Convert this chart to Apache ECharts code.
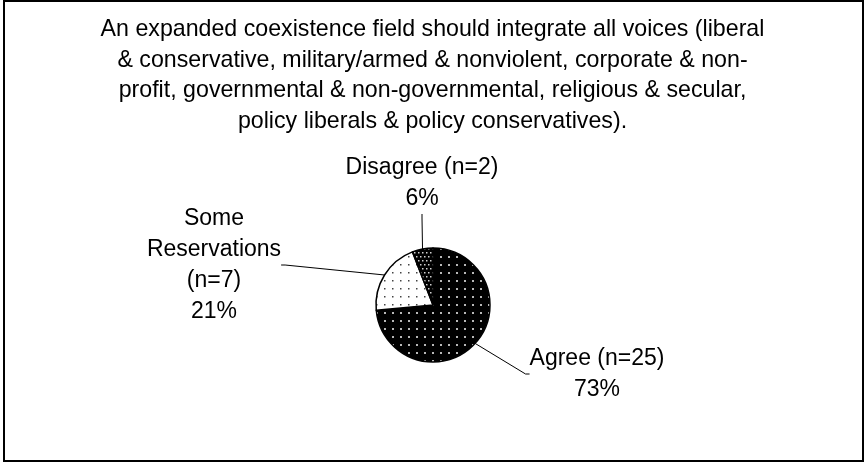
<!DOCTYPE html>
<html>
<head>
<meta charset="utf-8">
<script src="https://cdn.jsdelivr.net/npm/echarts@6/dist/echarts.min.js"></script>
<style>
html,body{margin:0;padding:0;background:#fff;}
#chart{position:absolute;left:0;top:0;width:865px;height:463px;}
#frame{position:absolute;left:3px;top:0px;width:857px;height:458px;border:2px solid #000;pointer-events:none;}
</style>
</head>
<body>
<div id="chart"></div>
<div id="frame"></div>
<script>
const titleLines = [
  "An expanded coexistence field should integrate all voices (liberal",
  "& conservative, military/armed & nonviolent, corporate & non-",
  "profit, governmental & non-governmental, religious & secular,",
  "policy liberals & policy conservatives)."
];
const categories = ["Agree", "Some Reservations", "Disagree"];
const labelNames = ["Agree (n=25)", "Some\nReservations\n(n=7)", "Disagree (n=2)"];
const counts = [25, 7, 2];
const percents = [73, 21, 6];

function makePattern(bg, dot, step, size, stagger) {
  const c = document.createElement('canvas');
  c.width = step * 2; c.height = step * 2;
  const ctx = c.getContext('2d');
  ctx.fillStyle = bg; ctx.fillRect(0, 0, c.width, c.height);
  ctx.fillStyle = dot;
  for (let i = 0; i < 2; i++) for (let j = 0; j < 2; j++) {
    let x = i * step + (stagger && (j % 2) ? step / 2 : 0);
    let y = j * step;
    ctx.fillRect(x, y, size, size);
  }
  return { image: c, repeat: 'repeat' };
}
const patterns = [
  makePattern('#000', '#b8b8b8', 8, 2, false),
  makePattern('#fff', '#444', 8, 1.5, false),
  makePattern('#000', '#d0d0d0', 4, 1.5, true)
];
const labelPos = [
  { x: 597, y: 374 },
  { x: 214, y: 265 },
  { x: 422, y: 183 }
];
const FONT = 'Liberation Sans, Arial, sans-serif';

const chart = echarts.init(document.getElementById('chart'), null, { renderer: 'canvas' });
chart.setOption({
  animation: false,
  backgroundColor: '#fff',
  title: {
    text: titleLines.join('\n'),
    left: 'center',
    top: 14,
    padding: 0,
    textStyle: {
      fontFamily: FONT,
      fontSize: 23.2,
      fontWeight: 'normal',
      color: '#000',
      lineHeight: 30.8
    }
  },
  series: [{
    type: 'pie',
    center: [433, 305],
    radius: 57,
    startAngle: 90,
    clockwise: true,
    avoidLabelOverlap: false,
    data: categories.map((c, i) => ({
      name: c,
      value: counts[i],
      itemStyle: { color: patterns[i] }
    })),
    itemStyle: { borderColor: '#000', borderWidth: 1.5 },
    label: {
      show: true,
      position: 'outside',
      formatter: p => labelNames[p.dataIndex] + '\n' + percents[p.dataIndex] + '%',
      fontFamily: FONT,
      fontSize: 23,
      color: '#000',
      lineHeight: 31,
      align: 'center'
    },
    labelLine: {
      show: true,
      length: 10,
      length2: 4,
      lineStyle: { color: '#000', width: 1 }
    },
    labelLayout: p => ({
      x: labelPos[p.dataIndex].x,
      y: labelPos[p.dataIndex].y,
      align: 'center',
      verticalAlign: 'middle'
    }),
    emphasis: { disabled: true }
  }]
});
</script>
</body>
</html>
